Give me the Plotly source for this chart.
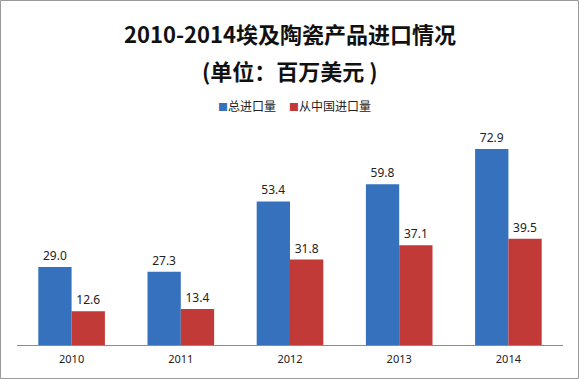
import plotly.graph_objects as go

years = ["2010", "2011", "2012", "2013", "2014"]
total_imports = [29.0, 27.3, 53.4, 59.8, 72.9]
china_imports = [12.6, 13.4, 31.8, 37.1, 39.5]
series_names = ["总进口量", "从中国进口量"]
colors = ["#3671bd", "#c23a38"]

W, H = 579, 379
L, R, T, B = 17, 16, 130, 34
pw, ph = W - L - R, H - T - B

fig = go.Figure()
for vals, name, col in zip([total_imports, china_imports], series_names, colors):
    fig.add_trace(go.Bar(
        x=years, y=vals, name=name,
        marker=dict(color=col, line=dict(width=0)),
        text=[f"{v:.1f}" for v in vals], textposition="outside",
        textfont=dict(size=12, color="#222222", family="Noto Sans, Liberation Sans"),
        cliponaxis=False,
    ))

def px_to_paper_x(px):
    return (px - L) / pw

def px_to_paper_y(py):
    return (H - B - py) / ph

legend_annots = [
    dict(text=f"<span style='color:{colors[0]};font-size:10px'>■</span>{series_names[0]}",
         x=px_to_paper_x(216), xanchor="left"),
    dict(text=f"<span style='color:{colors[1]};font-size:10px'>■</span>{series_names[1]}",
         x=px_to_paper_x(287), xanchor="left"),
]
annots = [
    dict(text="<b>2010-2014埃及陶瓷产品进口情况</b>", xref="paper", yref="paper",
         x=px_to_paper_x(290), y=px_to_paper_y(33), xanchor="center", yanchor="middle",
         showarrow=False, font=dict(size=22, family="Noto Sans CJK SC", color="#111111")),
    dict(text="<b>(单位：百万美元 )</b>", xref="paper", yref="paper",
         x=px_to_paper_x(290), y=px_to_paper_y(70), xanchor="center", yanchor="middle",
         showarrow=False, font=dict(size=22, family="Noto Sans CJK SC", color="#111111")),
]
for a in legend_annots:
    a.update(xref="paper", yref="paper", y=px_to_paper_y(105), yanchor="middle",
             showarrow=False, font=dict(size=12, family="Noto Sans CJK SC", color="#222222"))
    annots.append(a)

fig.update_layout(
    width=W, height=H,
    margin=dict(l=L, r=R, t=T, b=B),
    paper_bgcolor="white", plot_bgcolor="white",
    barmode="group", bargap=0.39, bargroupgap=0,
    font=dict(family="Noto Sans CJK SC, Noto Sans, sans-serif", color="#222222"),
    showlegend=False,
    xaxis=dict(
        showline=True, linecolor="#8c8c8c", linewidth=1,
        ticks="", ticklabelstandoff=4,
        tickfont=dict(size=11, family="Noto Sans, Liberation Sans", color="#222222"),
        showgrid=False,
    ),
    yaxis=dict(range=[0, 80], visible=False, showgrid=False),
    annotations=annots,
    shapes=[
        dict(type="rect", xref="paper", yref="paper",
             x0=px_to_paper_x(0.5), x1=px_to_paper_x(578.5),
             y0=px_to_paper_y(378.5), y1=px_to_paper_y(0.5),
             line=dict(color="#9a9a9a", width=1), fillcolor="rgba(0,0,0,0)", layer="below"),
    ],
)

fig.write_html("out.html", config={"displayModeBar": False},
               post_script="document.body.style.margin='0';document.body.style.overflow='hidden';")
